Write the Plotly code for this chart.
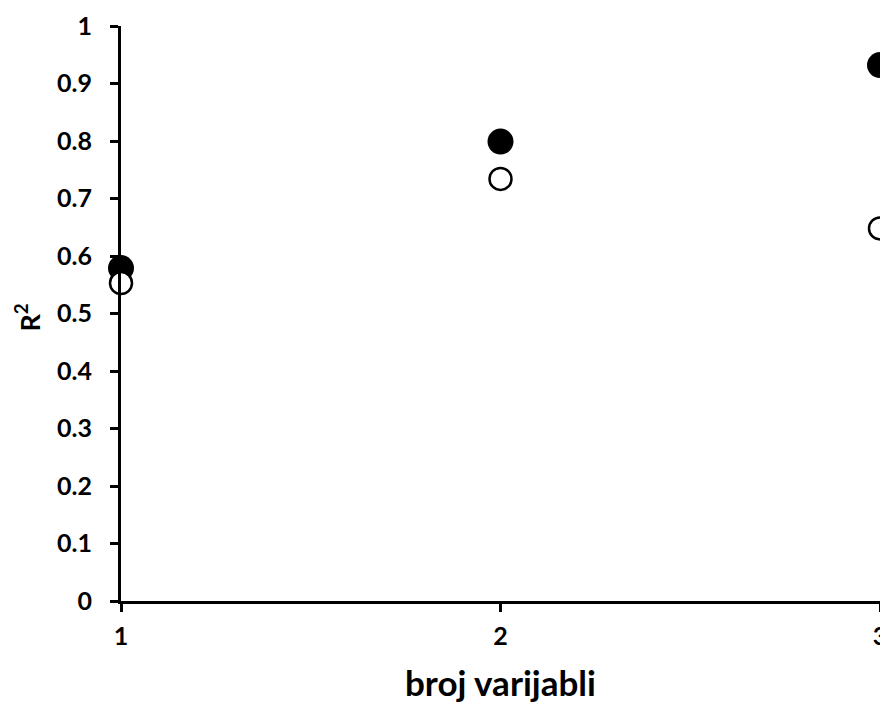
import plotly.graph_objects as go

broj_varijabli = [1, 2, 3]
r2_puni = [0.579, 0.799, 0.932]
r2_prazni = [0.553, 0.734, 0.648]
y_ticks = [0, 0.1, 0.2, 0.3, 0.4, 0.5, 0.6, 0.7, 0.8, 0.9, 1]
y_tick_labels = ["0", "0.1", "0.2", "0.3", "0.4", "0.5", "0.6", "0.7", "0.8", "0.9", "1"]

font_fam = "Lato"

fig = go.Figure()
fig.add_trace(go.Scatter(
    x=broj_varijabli, y=r2_puni,
    mode="markers",
    marker=dict(size=26, color="black", line=dict(width=0)),
    cliponaxis=False,
    showlegend=False,
))
fig.add_trace(go.Scatter(
    x=broj_varijabli, y=r2_prazni,
    mode="markers",
    marker=dict(size=22, color="white", line=dict(width=2.5, color="black")),
    cliponaxis=False,
    showlegend=False,
))

# page body has an 8px margin, so the figure is a bit smaller than the window
fig.update_layout(
    width=880, height=696,
    margin=dict(l=113, r=8, t=18, b=103),
    plot_bgcolor="white",
    paper_bgcolor="white",
    font=dict(family=font_fam, color="black"),
)
fig.update_xaxes(
    range=[1, 3],
    tickvals=broj_varijabli,
    ticktext=[str(v) for v in broj_varijabli],
    tickfont=dict(size=25, family=font_fam, weight="bold"),
    ticks="outside", ticklen=8, tickwidth=3, tickcolor="black",
    showline=True, linewidth=3, linecolor="black",
    showgrid=False, zeroline=False,
    ticklabelstandoff=3,
    automargin=False,
)
fig.update_yaxes(
    range=[0, 1],
    tickvals=y_ticks,
    ticktext=y_tick_labels,
    tickfont=dict(size=25, family=font_fam, weight="bold"),
    ticks="outside", ticklen=8, tickwidth=3, tickcolor="black",
    showline=True, linewidth=3, linecolor="black",
    showgrid=False, zeroline=False,
    ticklabelstandoff=13,
    automargin=False,
)

# axis titles as annotations so they can be placed exactly
fig.add_annotation(
    text="<b>broj varijabli</b>", font=dict(size=35, family=font_fam),
    xref="paper", yref="paper", x=0.5, y=0,
    xanchor="center", yanchor="middle", yshift=-81,
    showarrow=False,
)
fig.add_annotation(
    text="<b>R<sup>2</sup></b>", font=dict(size=27, family=font_fam),
    xref="paper", yref="paper", x=0, y=0.5,
    xanchor="center", yanchor="middle", xshift=-94, yshift=-4,
    textangle=-90, showarrow=False,
)

fig.write_html("out.html")
